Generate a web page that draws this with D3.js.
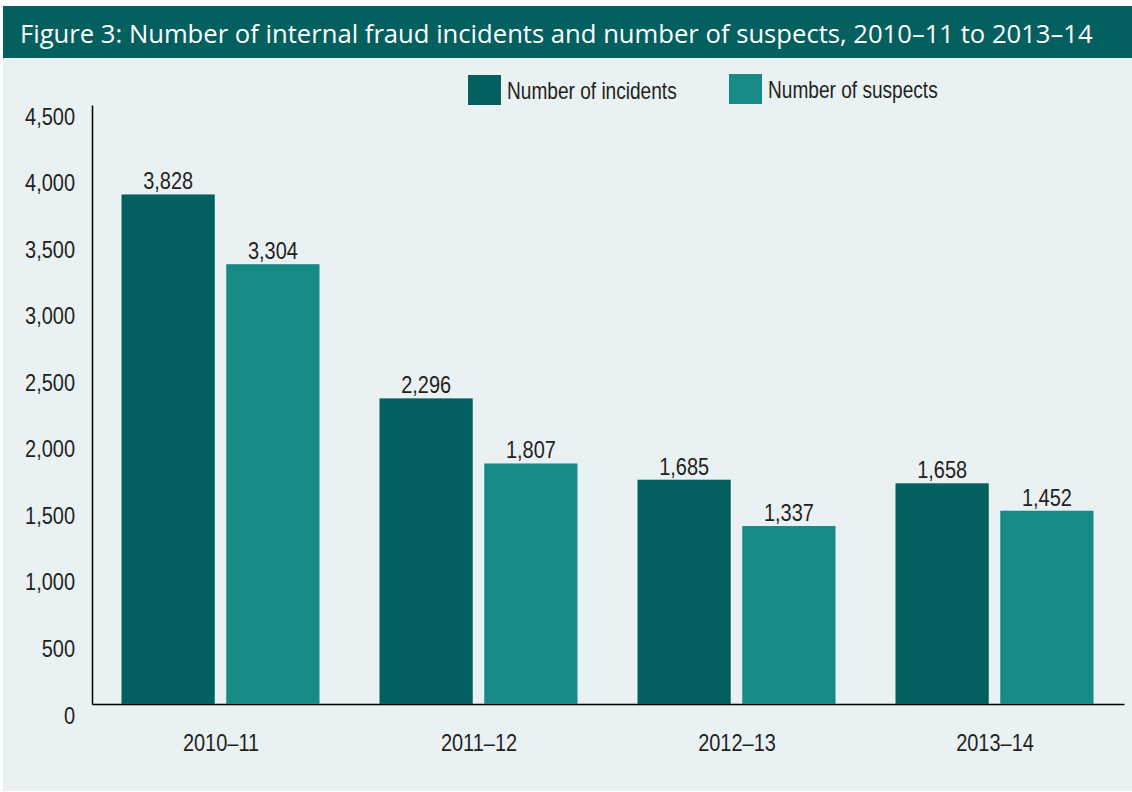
<!DOCTYPE html>
<html>
<head>
<meta charset="utf-8">
<script src="https://cdn.jsdelivr.net/npm/d3@7"></script>
<style>
  body { margin: 0; background: #fff; }
  svg { display: block; }
  text { font-family: "Liberation Sans", Arial, sans-serif; fill: #231f20; }
</style>
</head>
<body>
<svg id="chart" width="1132" height="792"></svg>
<script>
const categories = ["2010–11", "2011–12", "2012–13", "2013–14"];
const seriesNames = ["Number of incidents", "Number of suspects"];
const incidents = [3828, 2296, 1685, 1658];
const suspects = [3304, 1807, 1337, 1452];
const yTicks = [0, 500, 1000, 1500, 2000, 2500, 3000, 3500, 4000, 4500];
const colors = ["#03605f", "#188a85"];
const titleText = "Figure 3: Number of internal fraud incidents and number of suspects, 2010–11 to 2013–14";

const svg = d3.select("#chart");
const plot = { left: 92, right: 1124, top: 105, bottom: 704 };
// the original uses a condensed face, so squeeze Liberation Sans horizontally
const squeeze = 0.85;
const fmt = d3.format(",");

// panel + title bar
svg.append("rect").attr("x", 3).attr("y", 58).attr("width", 1129).attr("height", 733).attr("fill", "#e9f1f3");
svg.append("rect").attr("x", 3).attr("y", 6).attr("width", 1129).attr("height", 52).attr("fill", "#03605f");
const title = svg.append("text")
  .attr("x", 20).attr("y", 43)
  .style("font-family", "'Open Sans', sans-serif")
  .style("font-size", "25px")
  .style("fill", "#fff")
  .text(titleText);
// fit title to the measured width
const tw = title.node().getComputedTextLength();
title.style("font-size", (25 * 1073 / tw).toFixed(2) + "px");

// scales
const x0 = d3.scaleBand().domain(categories).range([plot.left, plot.right]).padding(0);
const x1 = d3.scaleBand().domain(seriesNames).range([29.5, 227.5]).paddingInner(0.11);
const y = d3.scaleLinear().domain([0, 4500]).range([plot.bottom, plot.top]);

const data = categories.map((c, i) => ({ cat: c, values: [incidents[i], suspects[i]] }));

// axes
const yAxis = svg.append("g").attr("transform", `translate(${plot.left},0)`)
  .call(d3.axisLeft(y).tickValues(yTicks).tickSize(0).tickFormat(fmt));
yAxis.select(".domain").attr("stroke", "#000").attr("stroke-width", 1.5);
yAxis.selectAll(".tick text")
  .attr("x", 0).attr("dy", null)
  .attr("transform", `translate(-17,19) scale(${squeeze},1)`)
  .style("font-size", "23.5px")
  .attr("fill", "#231f20");

const xAxis = svg.append("g").attr("transform", `translate(0,${plot.bottom})`)
  .call(d3.axisBottom(x0).tickSize(0));
xAxis.select(".domain").attr("stroke", "#000").attr("stroke-width", 1.5);
xAxis.selectAll(".tick text")
  .attr("y", 0).attr("dy", null)
  .attr("transform", `translate(0,47) scale(${squeeze},1)`)
  .style("font-size", "23.5px")
  .attr("fill", "#231f20");

// bars
const groups = svg.append("g").selectAll("g")
  .data(data).join("g")
  .attr("transform", d => `translate(${x0(d.cat)},0)`);

groups.selectAll("rect")
  .data(d => d.values.map((v, i) => ({ key: seriesNames[i], v, i })))
  .join("rect")
  .attr("x", d => x1(d.key))
  .attr("y", d => y(d.v))
  .attr("width", x1.bandwidth())
  .attr("height", d => y(0) - y(d.v))
  .attr("fill", d => colors[d.i]);

groups.selectAll("text.value")
  .data(d => d.values.map((v, i) => ({ key: seriesNames[i], v, i })))
  .join("text")
  .attr("class", "value")
  .attr("transform", d => `translate(${x1(d.key) + x1.bandwidth() / 2},${y(d.v) - 5}) scale(${squeeze},1)`)
  .attr("text-anchor", "middle")
  .style("font-size", "23.5px")
  .text(d => fmt(d.v));

// legend
const legendPos = [{ x: 468, y: 75 }, { x: 729, y: 74 }];
const legend = svg.append("g").selectAll("g")
  .data(seriesNames).join("g")
  .attr("transform", (d, i) => `translate(${legendPos[i].x},${legendPos[i].y})`);
legend.append("rect").attr("width", 33).attr("height", 30).attr("fill", (d, i) => colors[i]);
legend.append("text")
  .attr("transform", `translate(39,24) scale(0.83,1)`)
  .style("font-size", "23px")
  .text(d => d);
</script>
</body>
</html>
